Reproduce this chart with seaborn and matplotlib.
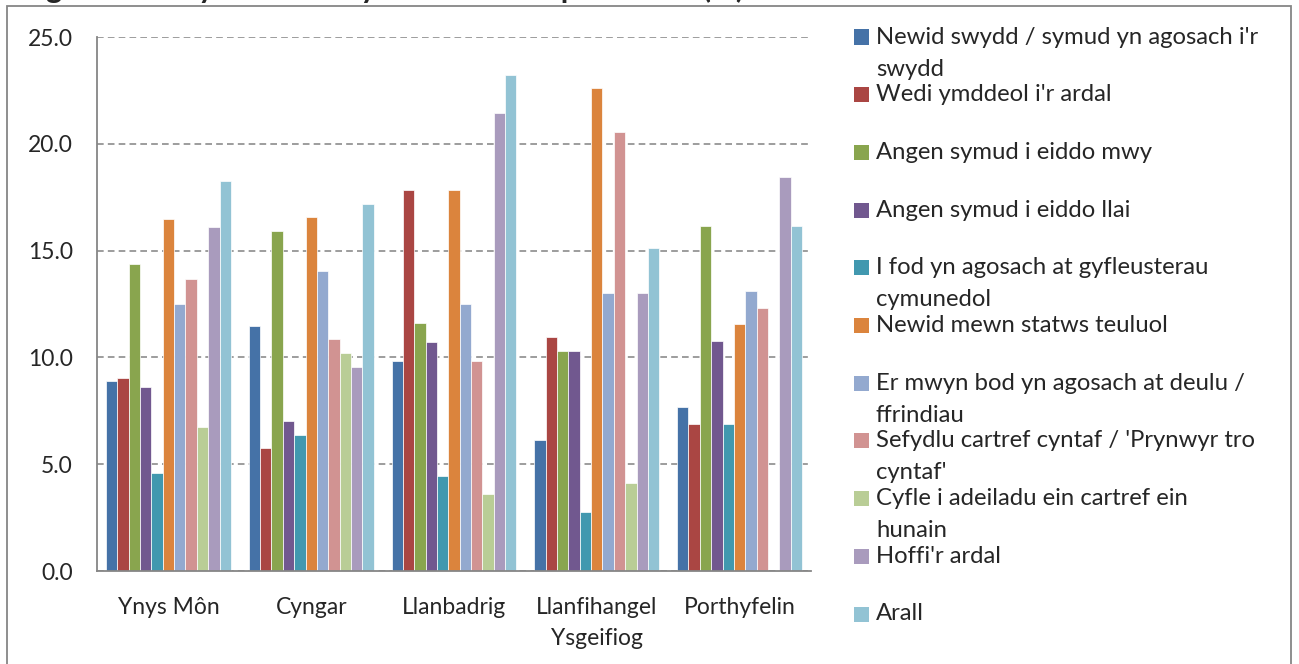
import numpy as np
import pandas as pd
import matplotlib.pyplot as plt
import seaborn as sns
from matplotlib.patches import Rectangle

# areas on the x axis
areas = ["Ynys Môn", "Cyngar", "Llanbadrig", "Llanfihangel\nYsgeifiog", "Porthyfelin"]

# reasons for moving (legend labels, wrapped like the original)
reasons = [
    "Newid swydd / symud yn agosach i'r\nswydd",
    "Wedi ymddeol i'r ardal",
    "Angen symud i eiddo mwy",
    "Angen symud i eiddo llai",
    "I fod yn agosach at gyfleusterau\ncymunedol",
    "Newid mewn statws teuluol",
    "Er mwyn bod yn agosach at deulu /\nffrindiau",
    "Sefydlu cartref cyntaf / 'Prynwyr tro\ncyntaf'",
    "Cyfle i adeiladu ein cartref ein\nhunain",
    "Hoffi'r ardal",
    "Arall",
]

# % per area, one list per reason
newid_swydd = [8.9, 11.45, 9.85, 6.15, 7.7]
ymddeol = [9.05, 5.75, 17.85, 10.95, 6.9]
eiddo_mwy = [14.35, 15.9, 11.6, 10.3, 16.15]
eiddo_llai = [8.6, 7.0, 10.7, 10.3, 10.75]
cyfleusterau = [4.6, 6.35, 4.45, 2.75, 6.9]
statws_teuluol = [16.5, 16.55, 17.85, 22.6, 11.55]
teulu_ffrindiau = [12.5, 14.05, 12.5, 13.0, 13.1]
prynwyr_tro_cyntaf = [13.65, 10.85, 9.85, 20.55, 12.3]
adeiladu = [6.75, 10.2, 3.6, 4.1, 0.0]
hoffi_ardal = [16.1, 9.55, 21.45, 13.0, 18.45]
arall = [18.25, 17.2, 23.2, 15.1, 16.15]

series = [newid_swydd, ymddeol, eiddo_mwy, eiddo_llai, cyfleusterau, statws_teuluol,
          teulu_ffrindiau, prynwyr_tro_cyntaf, adeiladu, hoffi_ardal, arall]

colours = ["#4572A7", "#AA4643", "#89A54E", "#71588F", "#4198AF", "#DB843D",
           "#93A9CF", "#D19392", "#B9CD96", "#A99BBD", "#92C3D4"]

yticks = [0, 5, 10, 15, 20, 25]

title = "Ffigur 8: Rhesymau dros symud i'r eiddo presennol (%)"

df = pd.DataFrame({
    "ardal": areas * len(reasons),
    "rheswm": [r for r in reasons for _ in areas],
    "canran": [v for s in series for v in s],
})

sns.set_style("white")
plt.rcParams["font.family"] = ["Lato", "DejaVu Sans"]

W, H = 1299, 664
fig = plt.figure(figsize=(W / 100, H / 100), dpi=100)

def fx(px):
    return px / W

def fy(py):
    return 1 - py / H

ax = fig.add_axes([fx(97), fy(571), fx(811) - fx(97), fy(37) - fy(571)])

sns.barplot(data=df, x="ardal", y="canran", hue="rheswm", order=areas, hue_order=reasons,
            palette=colours, saturation=1, width=0.875, edgecolor="white", linewidth=0.5,
            legend=False, ax=ax)

ax.set_xlim(-0.5, len(areas) - 0.5)
ax.set_ylim(0, 25)
ax.set_yticks(yticks)
ax.set_yticklabels([f"{v:.1f}" for v in yticks])
ax.set_xlabel("")
ax.set_ylabel("")

ax.yaxis.grid(True, linestyle=(0, (4, 2.5)), color="#8c8c8c", linewidth=1.2)
ax.set_axisbelow(True)
for s in ["top", "right"]:
    ax.spines[s].set_visible(False)
for s in ["left", "bottom"]:
    ax.spines[s].set_color("#868686")
    ax.spines[s].set_linewidth(1.3)

ax.set_xticks(np.arange(-0.5, len(areas), 1), minor=True)
ax.tick_params(axis="x", which="major", length=0, pad=19, labelsize=16.5)
ax.tick_params(axis="x", which="minor", length=7, width=1.3, color="#868686", direction="out")
ax.tick_params(axis="y", length=6.5, width=1.3, color="#868686", direction="out", pad=11, labelsize=16.5)
for lab in ax.get_xticklabels():
    lab.set_linespacing(1.55)

# legend, drawn entry by entry so the square sits by the first line
for i, (lab, col) in enumerate(zip(reasons, colours)):
    base = 43.5 + 57.7 * i
    fig.patches.append(Rectangle((fx(854), fy(base + 1)), fx(15), fy(base - 14) - fy(base + 1),
                                 transform=fig.transFigure, facecolor=col, edgecolor="none"))
    for k, line in enumerate(lab.split("\n")):
        fig.text(fx(876), fy(base + 32 * k), line, fontsize=17.2, va="baseline", ha="left")

# title sits mostly above the canvas, as in the cropped original
fig.text(fx(10), fy(-2), title, fontsize=22, fontweight="bold", va="baseline", ha="left")

# outer chart frame (its bottom edge falls below the canvas)
fig.patches.append(Rectangle((fx(7), fy(672)), fx(1291) - fx(7), fy(5.5) - fy(672),
                             transform=fig.transFigure, fill=False, edgecolor="#868686", linewidth=1.3))

fig.savefig("out.png", dpi=100)
